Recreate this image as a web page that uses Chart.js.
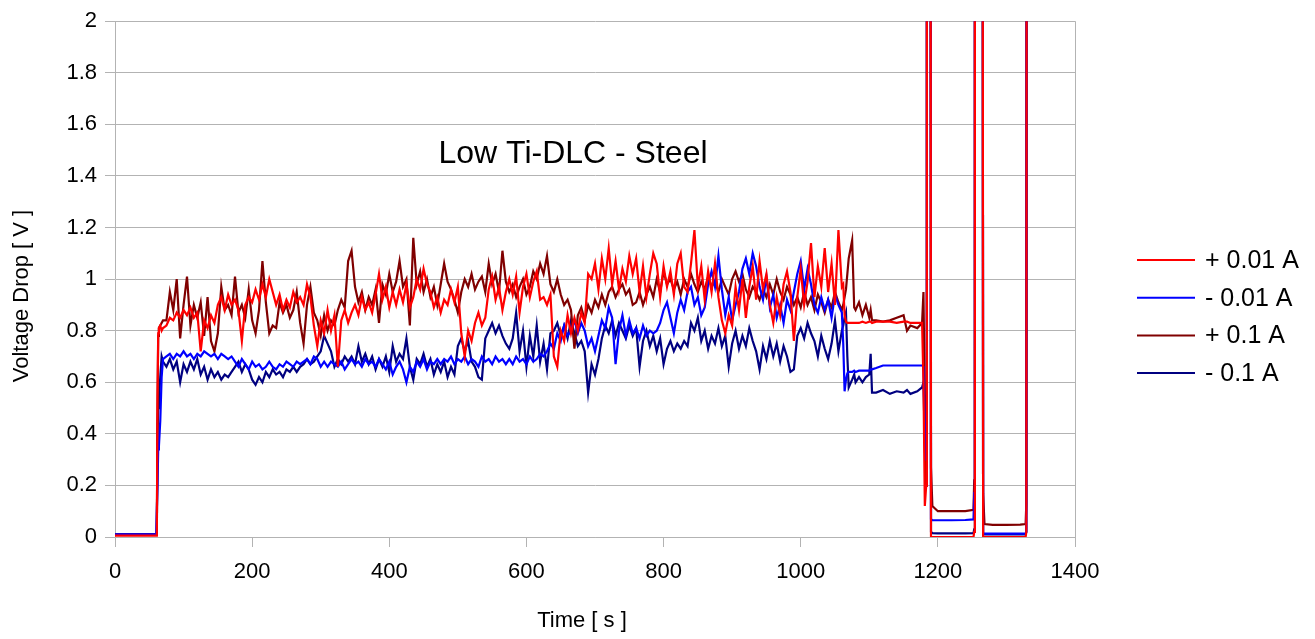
<!DOCTYPE html>
<html lang="en">

<head>
    <meta charset="UTF-8">
    <title>Low Ti-DLC - Steel</title>
    <script src="https://cdn.jsdelivr.net/npm/chart.js"></script>
    <style>
        body { margin: 0; background: #fff; }
    </style>
</head>

<body>
    <canvas id="voltageChart" width="1315" height="639"></canvas>

    <script>
        // sample times in seconds: lead-in, the run (read every 5 s from 75 s to 1060 s), then the tail
        const leadTimes = [0, 30, 60, 61, 62, 63, 64, 66, 68, 70];
        const runStart = 75, runEnd = 1060, runStep = 5;
        const tailTimes = [1062, 1064, 1066, 1068, 1070, 1075, 1078, 1080, 1085, 1090,
            1095, 1100, 1102, 1104, 1110, 1120, 1130, 1140, 1150, 1155,
            1160, 1170, 1177, 1179, 1181, 1183, 1184, 1189, 1190, 1192,
            1200, 1220, 1240, 1252, 1253, 1254, 1265, 1266, 1268, 1280,
            1300, 1320, 1328, 1329, 1330];

        const labels = ['+ 0.01 A', '- 0.01 A', '+ 0.1 A', '- 0.1 A'];
        const colors = ['#ff0000', '#0000ff', '#800000', '#000080'];

        // + 0.01 A
        const redLead = [0.005, 0.005, 0.005, 0.01, 0.55, 0.79, 0.81, 0.82, 0.8, 0.81];
        const redRun = [
            0.82, 0.85, 0.84, 0.87, 0.85, 0.88, 0.86, 0.89, 0.85, 0.87, 0.72, 0.84, 0.81, 0.86, 0.83, 0.9, 0.93, 0.88, 0.94, 0.9,
            0.92, 0.88, 0.76, 0.9, 0.93, 0.91, 0.96, 0.92, 0.98, 0.93, 1.0, 0.95, 0.9, 0.94, 0.88, 0.92, 0.89, 0.95, 0.91, 0.93,
            0.9, 0.98, 0.93, 0.82, 0.74, 0.84, 0.79, 0.88, 0.8, 0.86, 0.66, 0.84, 0.88, 0.83, 0.87, 0.9, 0.86, 0.93, 0.88, 0.91,
            0.87, 0.94, 1.02, 0.92, 0.97, 0.89, 0.95, 0.9, 0.96, 0.91, 0.98, 0.89, 0.93, 1.0, 0.96, 1.04, 0.98, 0.95, 0.89, 0.93,
            0.87, 0.92, 0.9, 0.96, 0.91, 0.97, 0.79, 0.7, 0.8, 0.76, 0.83, 0.87, 0.82, 0.85, 0.96, 1.01, 0.92, 0.97, 0.88, 0.95,
            1.0, 0.94, 1.01, 0.87, 0.97, 1.02, 0.93, 0.99, 1.03, 0.92, 0.93, 0.9, 0.94, 0.7, 0.66, 0.8, 0.76, 0.86, 0.79, 0.85,
            0.8, 0.87, 0.83, 1.02, 1.0, 1.06, 0.96, 1.08, 1.0, 1.12, 0.98, 1.07, 0.96, 1.04, 0.99, 1.09, 1.02, 1.08, 0.95, 1.05,
            0.93, 1.02, 1.1, 1.06, 0.93, 1.05, 0.97, 1.03, 0.94, 1.06, 1.1, 0.97, 0.95, 1.06, 1.19, 0.97, 1.05, 0.92, 1.03, 0.95,
            1.06, 0.93, 0.84, 0.79, 0.86, 0.82, 0.97, 0.88, 1.0, 0.85, 0.97, 1.05, 0.92, 1.07, 0.96, 1.02, 0.9, 0.83, 0.93, 0.86,
            0.98, 1.03, 0.95, 0.76, 0.93, 1.04, 0.9, 0.99, 1.14, 0.93, 1.05, 0.97, 1.12, 0.95, 1.06, 0.9, 1.19, 0.97
        ];
        const redTail = [0.98, 0.86, 0.835, 0.83, 0.83, 0.83, 0.83, 0.83, 0.83, 0.835,
            0.83, 0.835, 0.835, 0.83, 0.835, 0.835, 0.835, 0.83, 0.835, 0.835,
            0.83, 0.83, 0.83, 0.6, 0.12, 0.2, 5, 5, 0, 0,
            0, 0, 0, 0, 0.02, 5, 5, 0, 0, 0,
            0, 0, 0, 0.02, 5];

        // - 0.01 A
        const blueLead = [0.01, 0.01, 0.01, 0.01, 0.2, 0.34, 0.35, 0.45, 0.62, 0.69];
        const blueRun = [
            0.7, 0.71, 0.69, 0.71, 0.7, 0.72, 0.7, 0.71, 0.69, 0.71, 0.7, 0.72, 0.71, 0.7, 0.71, 0.69, 0.71, 0.7, 0.69, 0.7,
            0.68, 0.66, 0.69, 0.67, 0.65, 0.68, 0.66, 0.67, 0.65, 0.66, 0.68, 0.66, 0.65, 0.67, 0.66, 0.68, 0.67, 0.66, 0.68, 0.67,
            0.68, 0.69, 0.67, 0.7, 0.69, 0.66, 0.68, 0.66, 0.68, 0.67, 0.66, 0.68, 0.65, 0.67, 0.69, 0.67, 0.68, 0.66, 0.69, 0.67,
            0.68, 0.66, 0.69, 0.67, 0.65, 0.68, 0.63, 0.66, 0.68, 0.65, 0.6, 0.66, 0.64, 0.68, 0.66, 0.69, 0.65, 0.68, 0.67, 0.69,
            0.67, 0.69, 0.68, 0.7, 0.67, 0.69, 0.68, 0.7, 0.67, 0.69, 0.68, 0.66, 0.7, 0.68, 0.69, 0.67, 0.7, 0.68, 0.69, 0.67,
            0.69, 0.67, 0.7, 0.68, 0.69, 0.67, 0.7, 0.68, 0.69, 0.71, 0.7, 0.72, 0.75, 0.73, 0.79, 0.76, 0.82, 0.78, 0.8, 0.84,
            0.79, 0.83, 0.8, 0.74, 0.77, 0.72, 0.78, 0.84, 0.81, 0.89, 0.85, 0.67, 0.8, 0.86, 0.78, 0.84, 0.79, 0.81, 0.77, 0.82,
            0.78, 0.8, 0.79, 0.8, 0.83, 0.88, 0.91, 0.85, 0.79, 0.87, 0.92, 0.88, 0.95, 0.97, 0.9, 0.93, 0.86, 0.89, 0.98, 1.03,
            0.97, 1.09, 0.96, 0.86, 0.93, 0.84, 0.9, 0.95, 1.04, 1.08, 1.02, 1.1, 1.05, 0.97, 0.92, 1.01, 0.89, 0.94, 0.85, 0.9,
            0.83, 0.92, 0.88, 0.95, 1.02, 1.07, 0.96, 1.04, 0.98, 0.9, 0.87, 0.93, 0.88, 0.92, 0.85, 0.94, 0.9, 0.87
        ];
        const blueTail = [0.75, 0.565, 0.61, 0.635, 0.64, 0.64, 0.645, 0.64, 0.645, 0.645,
            0.645, 0.645, 0.65, 0.65, 0.655, 0.665, 0.665, 0.665, 0.665, 0.665,
            0.665, 0.665, 0.665, 0.66, 0.4, 0.3, 5, 5, 0.07, 0.065,
            0.065, 0.065, 0.066, 0.068, 0.17, 5, 5, 0.015, 0.013, 0.013,
            0.013, 0.013, 0.013, 0.02, 5];

        // + 0.1 A
        const darkRedLead = [0.01, 0.01, 0.01, 0.015, 0.5, 0.78, 0.81, 0.82, 0.83, 0.84];
        const darkRedRun = [
            0.84, 0.95, 0.88, 1.0, 0.77, 0.9, 1.01, 0.82, 0.9, 0.85, 0.91, 0.78, 0.93, 0.76, 0.72, 0.79, 0.97, 0.88, 0.9, 0.86,
            1.01, 0.87, 0.9, 0.85, 0.96, 0.84, 0.79, 0.88, 1.07, 0.91, 0.79, 0.82, 0.81, 0.91, 0.87, 0.9, 0.85, 0.88, 0.95, 0.83,
            0.75, 0.9, 0.97, 0.87, 0.84, 0.78, 0.86, 0.8, 0.84, 0.82, 0.88, 0.92, 0.89, 1.07, 1.11, 0.97, 0.91, 0.95, 0.88, 0.93,
            0.9, 0.96, 0.83, 0.98, 0.94, 1.02, 0.95, 0.99, 1.07, 0.97, 1.0, 0.82, 1.16, 0.98, 1.03, 0.95, 1.0, 0.93, 0.97, 0.9,
            0.98, 1.06, 0.99, 0.96, 0.92, 0.87, 0.95, 1.0, 0.97, 1.02, 0.96, 0.99, 1.01, 0.95, 1.06, 0.98, 1.02, 0.95, 1.11, 0.99,
            0.95, 0.98, 0.93, 0.97, 1.0, 0.94, 0.97, 1.03, 1.0, 1.06, 1.02, 1.09, 0.98, 0.95, 1.0, 0.94, 0.9, 0.92, 0.88, 0.73,
            0.86, 0.89, 0.84, 0.9, 0.87, 0.92, 0.89, 0.94, 0.9, 0.95, 0.97, 0.93, 0.96, 0.98, 0.94, 0.96, 0.9, 0.91, 0.95, 0.9,
            0.94, 0.97, 0.93, 1.0, 0.95, 1.03, 0.98, 1.0, 0.96, 0.99, 0.94, 1.0, 0.97, 1.02, 0.98, 0.95, 0.99, 0.96, 1.01, 0.97,
            0.99, 0.95, 1.0, 0.97, 0.94, 1.0, 1.03, 0.99, 1.02, 0.96, 0.93, 0.97, 0.95, 0.92, 0.96, 0.93, 0.98, 0.94, 1.0, 0.95,
            0.92, 0.97, 0.94, 0.9, 0.93, 0.89, 0.95, 0.9, 0.93, 0.88, 0.94, 0.91, 0.87, 0.92, 0.89, 0.95, 0.91, 0.88
        ];
        const darkRedTail = [0.9, 0.93, 0.96, 1.02, 1.08, 1.15, 0.89, 0.88, 0.91, 0.86,
            0.9, 0.85, 0.88, 0.84, 0.84, 0.835, 0.84, 0.85, 0.86, 0.8,
            0.82, 0.81, 0.83, 0.95, 0.5, 0.2, 5, 5, 0.27, 0.12,
            0.1, 0.1, 0.1, 0.105, 0.22, 5, 5, 0.17, 0.05, 0.047,
            0.047, 0.048, 0.05, 0.13, 5];

        // - 0.1 A
        const navyLead = [0.01, 0.01, 0.01, 0.015, 0.4, 0.5, 0.53, 0.62, 0.7, 0.68];
        const navyRun = [
            0.66, 0.69, 0.65, 0.68, 0.6, 0.67, 0.64, 0.68, 0.65, 0.69, 0.63, 0.66, 0.61, 0.65, 0.62, 0.64, 0.61, 0.63, 0.62, 0.64,
            0.66, 0.68, 0.64, 0.67, 0.65, 0.61, 0.59, 0.62, 0.6, 0.64, 0.62, 0.65, 0.63, 0.64, 0.62, 0.65, 0.64, 0.66, 0.64, 0.66,
            0.67, 0.69, 0.67, 0.68, 0.7, 0.72, 0.78, 0.75, 0.72, 0.66, 0.69, 0.67, 0.7, 0.68, 0.7, 0.67, 0.74, 0.68, 0.71, 0.67,
            0.7, 0.65, 0.69, 0.66, 0.7, 0.64, 0.74, 0.68, 0.71, 0.69, 0.77, 0.66, 0.61, 0.69, 0.67, 0.71, 0.66, 0.69, 0.63, 0.67,
            0.64, 0.68, 0.62, 0.66, 0.63, 0.74, 0.77, 0.72, 0.76, 0.68, 0.66, 0.62, 0.61, 0.77, 0.8, 0.83, 0.79, 0.82, 0.78, 0.75,
            0.73, 0.77, 0.87, 0.72, 0.8, 0.66, 0.78, 0.7, 0.82, 0.68, 0.75, 0.65, 0.79, 0.8, 0.83, 0.78, 0.82, 0.77, 0.84, 0.79,
            0.74, 0.76, 0.72, 0.56, 0.67, 0.63, 0.69, 0.77, 0.82, 0.79, 0.84, 0.78, 0.83, 0.8, 0.77, 0.82, 0.78, 0.81, 0.66, 0.76,
            0.8, 0.74, 0.78, 0.72, 0.77, 0.67, 0.73, 0.76, 0.72, 0.75, 0.73, 0.76, 0.74, 0.83, 0.8, 0.85, 0.76, 0.8, 0.73, 0.78,
            0.75, 0.81, 0.74, 0.78, 0.66, 0.75, 0.8, 0.73, 0.78, 0.74, 0.81, 0.76, 0.72, 0.65, 0.74, 0.69, 0.76, 0.7, 0.75, 0.68,
            0.74, 0.7, 0.64, 0.65, 0.78, 0.81, 0.77, 0.83, 0.79, 0.76, 0.7, 0.78, 0.73, 0.69, 0.75, 0.84, 0.72, 0.8
        ];
        const navyTail = [0.82, 0.85, 0.87, 0.7, 0.58, 0.61, 0.63, 0.6, 0.62, 0.6,
            0.62, 0.63, 0.71, 0.56, 0.56, 0.57, 0.555, 0.565, 0.56, 0.57,
            0.555, 0.565, 0.58, 0.6, 0.35, 0.2, 5, 5, 0.02, 0.015,
            0.014, 0.014, 0.014, 0.015, 0.03, 5, 5, 0.012, 0.01, 0.01,
            0.01, 0.01, 0.01, 0.02, 5];

        const runTimes = [];
        for (let t = runStart; t <= runEnd; t += runStep) runTimes.push(t);
        const times = leadTimes.concat(runTimes, tailTimes);

        function points(lead, run, tail) {
            const values = lead.concat(run, tail);
            if (values.length !== times.length) console.warn('length mismatch', values.length, times.length);
            return times.map((t, i) => ({ x: t, y: values[i] }));
        }

        const series = [
            points(redLead, redRun, redTail),
            points(blueLead, blueRun, blueTail),
            points(darkRedLead, darkRedRun, darkRedTail),
            points(navyLead, navyRun, navyTail)
        ];

        const FONT = "'Liberation Sans', Arial, sans-serif";
        Chart.defaults.font.family = FONT;
        Chart.defaults.color = '#000';

        // chart title, axis titles and the legend are drawn by hand to sit where the original has them
        const textPlugin = {
            id: 'texts',
            afterDraw(chart) {
                const ctx = chart.ctx;
                const area = chart.chartArea;
                ctx.save();
                ctx.fillStyle = '#000';

                ctx.font = '32px ' + FONT;
                ctx.textAlign = 'center';
                ctx.textBaseline = 'alphabetic';
                ctx.fillText('Low Ti-DLC - Steel', area.left + 458, 163);

                ctx.font = '22px ' + FONT;
                ctx.textBaseline = 'middle';
                ctx.fillText('Time [ s ]', area.left + 467, 621);

                ctx.save();
                ctx.translate(22, 296);
                ctx.rotate(-Math.PI / 2);
                ctx.fillText('Voltage Drop [ V ]', 0, 0);
                ctx.restore();

                ctx.font = '25px ' + FONT;
                ctx.textAlign = 'left';
                chart.data.datasets.forEach((ds, i) => {
                    const y = 260 + i * 37.7;
                    ctx.strokeStyle = ds.borderColor;
                    ctx.lineWidth = 2;
                    ctx.beginPath();
                    ctx.moveTo(area.right + 62, y);
                    ctx.lineTo(area.right + 120, y);
                    ctx.stroke();
                    ctx.fillText(ds.label, area.right + 130, y + 1);
                });
                ctx.restore();
            }
        };

        const gridGray = '#b3b3b3';

        new Chart(document.getElementById('voltageChart'), {
            type: 'line',
            data: {
                datasets: series.map((data, i) => ({
                    label: labels[i],
                    data: data,
                    borderColor: colors[i],
                    backgroundColor: colors[i],
                    borderWidth: 2.2,
                    pointRadius: 0,
                    tension: 0,
                    fill: false
                }))
            },
            options: {
                responsive: false,
                animation: false,
                layout: { padding: { left: 0, top: 18, right: 240, bottom: 0 } },
                plugins: {
                    legend: { display: false },
                    tooltip: { enabled: false }
                },
                scales: {
                    x: {
                        type: 'linear',
                        min: 0,
                        max: 1400,
                        ticks: {
                            stepSize: 200, font: { size: 22 }, padding: 12, maxRotation: 0,
                            callback: v => String(v)
                        },
                        grid: {
                            color: ctx => (ctx.tick && ctx.tick.value === 1400 ? gridGray : 'rgba(0,0,0,0)'),
                            tickColor: gridGray,
                            tickLength: 10
                        },
                        border: { color: gridGray },
                        afterFit: scale => { scale.height = 102; }
                    },
                    y: {
                        min: 0,
                        max: 2,
                        ticks: {
                            stepSize: 0.2, font: { size: 22 }, padding: 8,
                            callback: v => String(Math.round(v * 10) / 10)
                        },
                        grid: { color: gridGray, tickColor: gridGray, tickLength: 10 },
                        border: { color: gridGray },
                        afterFit: scale => { scale.width = 115; }
                    }
                }
            },
            plugins: [textPlugin]
        });
    </script>
</body>

</html>
